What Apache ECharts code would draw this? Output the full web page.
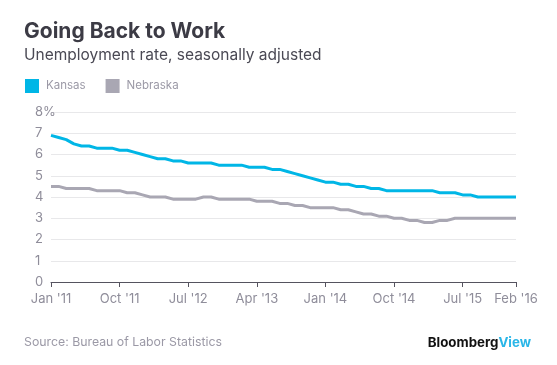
<!DOCTYPE html>
<html>
<head>
<meta charset="utf-8">
<script src="https://cdn.jsdelivr.net/npm/echarts@6/dist/echarts.min.js"></script>
<style>html,body{margin:0;padding:0;background:#fff}#c{width:557px;height:365px}</style>
</head>
<body>
<div id="c"></div>
<script>
var months = [
"Jan '11","Feb '11","Mar '11","Apr '11","May '11","Jun '11","Jul '11","Aug '11","Sep '11","Oct '11","Nov '11","Dec '11",
"Jan '12","Feb '12","Mar '12","Apr '12","May '12","Jun '12","Jul '12","Aug '12","Sep '12","Oct '12","Nov '12","Dec '12",
"Jan '13","Feb '13","Mar '13","Apr '13","May '13","Jun '13","Jul '13","Aug '13","Sep '13","Oct '13","Nov '13","Dec '13",
"Jan '14","Feb '14","Mar '14","Apr '14","May '14","Jun '14","Jul '14","Aug '14","Sep '14","Oct '14","Nov '14","Dec '14",
"Jan '15","Feb '15","Mar '15","Apr '15","May '15","Jun '15","Jul '15","Aug '15","Sep '15","Oct '15","Nov '15","Dec '15",
"Jan '16","Feb '16"];
var kansas = [6.9,6.8,6.7,6.5,6.4,6.4,6.3,6.3,6.3,6.2,6.2,6.1,
6.0,5.9,5.8,5.8,5.7,5.7,5.6,5.6,5.6,5.6,5.5,5.5,
5.5,5.5,5.4,5.4,5.4,5.3,5.3,5.2,5.1,5.0,4.9,4.8,
4.7,4.7,4.6,4.6,4.5,4.5,4.4,4.4,4.3,4.3,4.3,4.3,
4.3,4.3,4.3,4.2,4.2,4.2,4.1,4.1,4.0,4.0,4.0,4.0,
4.0,4.0];
var nebraska = [4.5,4.5,4.4,4.4,4.4,4.4,4.3,4.3,4.3,4.3,4.2,4.2,
4.1,4.0,4.0,4.0,3.9,3.9,3.9,3.9,4.0,4.0,3.9,3.9,
3.9,3.9,3.9,3.8,3.8,3.8,3.7,3.7,3.6,3.6,3.5,3.5,
3.5,3.5,3.4,3.4,3.3,3.2,3.2,3.1,3.1,3.0,3.0,2.9,
2.9,2.8,2.8,2.9,2.9,3.0,3.0,3.0,3.0,3.0,3.0,3.0,
3.0,3.0];
var tickIndices = [0,9,18,27,36,45,54,61];
var seriesNames = ["Kansas","Nebraska"];

var FONT = "Inter";
var chart = echarts.init(document.getElementById('c'), null, {renderer:'canvas'});
chart.setOption({
  animation:false,
  backgroundColor:'#ffffff',
  title:[
    {text:'Going Back to Work', left:19, top:16, textStyle:{fontFamily:FONT, fontSize:21, fontWeight:'bold', color:'#3c3b45'}},
    {text:'Unemployment rate, seasonally adjusted', left:19, top:42, textStyle:{fontFamily:FONT, fontSize:15.5, fontWeight:'normal', color:'#4a4954'}},
    {text:'Source: Bureau of Labor Statistics', left:19, top:331, textStyle:{fontFamily:FONT, fontSize:12.3, fontWeight:'normal', color:'#9b99a6'}},
    {text:'{a|Bloomberg}{b|View}', right:21, top:331, textStyle:{rich:{
      a:{fontFamily:FONT, fontSize:13.3, fontWeight:'bold', color:'#111111'},
      b:{fontFamily:FONT, fontSize:13.3, fontWeight:'bold', color:'#29b6e8'}}}}
  ],
  legend:{
    left:20, top:74, icon:'rect', itemWidth:14, itemHeight:14, itemGap:20,
    textStyle:{fontFamily:FONT, fontSize:11.5, color:'#9b99a6', padding:[0,0,0,2]},
    data:seriesNames
  },
  grid:{left:51, right:41, top:112, bottom:83, containLabel:false},
  xAxis:{
    type:'category', data:months, boundaryGap:false,
    axisLine:{lineStyle:{color:'#55535f', width:1}},
    axisTick:{length:5, lineStyle:{color:'#55535f'}, interval:function(i){return tickIndices.indexOf(i)>=0;}},
    axisLabel:{interval:function(i){return tickIndices.indexOf(i)>=0;}, fontFamily:FONT, fontSize:13, color:'#8f8d9a', margin:11},
    splitLine:{show:false}
  },
  yAxis:{
    type:'value', min:0, max:8, interval:1,
    axisLine:{show:false}, axisTick:{show:false},
    axisLabel:{fontFamily:FONT, fontSize:13, color:'#8f8d9a', align:'left', margin:16,
      formatter:function(v){return v===8?'8%':String(v);}},
    splitLine:{lineStyle:{color:'#e8e8ea', width:1}}
  },
  series:[
    {name:seriesNames[0], type:'line', data:kansas, showSymbol:false, symbol:'none', lineStyle:{color:'#00b6e6', width:3}, itemStyle:{color:'#00b6e6'}, z:3},
    {name:seriesNames[1], type:'line', data:nebraska, showSymbol:false, symbol:'none', lineStyle:{color:'#a9a7b3', width:3}, itemStyle:{color:'#a9a7b3'}, z:2}
  ]
});
</script>
</body>
</html>
